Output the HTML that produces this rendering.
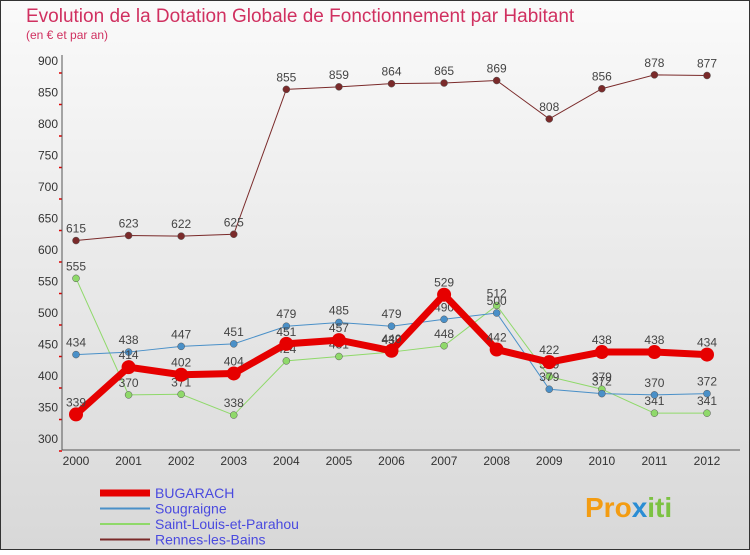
<!DOCTYPE html>
<html><head><meta charset="utf-8"><style>
body{margin:0;background:#fff}
#c{width:750px;height:550px;position:relative;font-family:"Liberation Sans",sans-serif}
</style></head><body>
<div id="c">
<svg id="s" width="750" height="550" xmlns="http://www.w3.org/2000/svg">
<defs><linearGradient id="bg" x1="0" y1="0" x2="0" y2="1"><stop offset="0" stop-color="#fafafa"/><stop offset="1" stop-color="#d8d8d8"/></linearGradient></defs>
<rect x="0.5" y="0.5" width="749" height="549" fill="url(#bg)" stroke="#333"/>
<text x="26" y="22" font-size="19" fill="#d03060" font-weight="300">Evolution de la Dotation Globale de Fonctionnement par Habitant</text>
<text x="26" y="39" font-size="12" fill="#d03060">(en € et par an)</text>
<g id="g"></g>
<text x="585" y="517" font-size="28" font-weight="bold" fill="#f39c12">Pro<tspan fill="#2a8dd4">x</tspan><tspan fill="#7cc242">iti</tspan></text>
</svg></div>
<script>
const years=["2000","2001","2002","2003","2004","2005","2006","2007","2008","2009","2010","2011","2012"];
const yTicks=[300,350,400,450,500,550,600,650,700,750,800,850,900];
const bugarach=[339,414,402,404,451,457,440,529,442,422,438,438,434];
const sougraigne=[434,438,447,451,479,485,479,490,500,379,372,370,372];
const saintLouis=[555,370,371,338,424,431,438,448,512,399,379,341,341];
const rennes=[615,623,622,625,855,859,864,865,869,808,856,878,877];
const NS="http://www.w3.org/2000/svg",g=document.getElementById('g');
const X=i=>76+i*(707-76)/12, Y=v=>439-(v-300)*(439-61)/600;
function mk(t,a,p){const e=document.createElementNS(NS,t);for(const k in a)e.setAttribute(k,a[k]);(p||g).appendChild(e);return e;}
yTicks.forEach(v=>{
 const tk=mk('line',{x1:59,x2:62,y1:Y(v)+12,y2:Y(v)+12,stroke:'#e00000','stroke-width':1.5});
 
 
 const t=mk('text',{x:58,y:Y(v)+4,'font-size':12,fill:'#333','text-anchor':'end'});t.textContent=v;
 
 
});
mk('line',{x1:62,x2:62,y1:55,y2:450,stroke:'#555'});
mk('line',{x1:62,x2:740,y1:450,y2:450,stroke:'#555'});
years.forEach((y,i)=>{
 const t=mk('text',{x:X(i),y:465,'font-size':12,fill:'#333','text-anchor':'middle'});t.textContent=y;
 
 
});
const series=[
 {d:rennes,c:'#7a2a2a',w:1,r:3.5,n:'rennes-les-bains'},
 {d:saintLouis,c:'#8fd96a',w:1,r:3.5,n:'saint-louis-et-parahou'},
 {d:sougraigne,c:'#4a90c8',w:1,r:3.5,n:'sougraigne'},
 {d:bugarach,c:'#e60000',w:7,r:7,n:'bugarach'}];
series.forEach(s=>{
 const p=mk('polyline',{points:s.d.map((v,i)=>X(i)+','+Y(v)).join(' '),fill:'none',stroke:s.c,'stroke-width':s.w});
 
 
 s.d.forEach((v,i)=>{
  const c=mk('circle',{cx:X(i),cy:Y(v),r:s.r,fill:s.c,stroke:'#555','stroke-width':s.w>1?0:0.5});
  
  
  const t=mk('text',{x:X(i),y:Y(v)-8,'font-size':12,fill:'#444','text-anchor':'middle'});t.textContent=v;
  
  
 });
});
const leg=[['BUGARACH','#e60000',7],['Sougraigne','#4a90c8',2],['Saint-Louis-et-Parahou','#8fd96a',2],['Rennes-les-Bains','#7a2a2a',2]];
leg.forEach((l,i)=>{
 const y=493+i*15.5;
 const ln=mk('line',{x1:100,x2:150,y1:y,y2:y,stroke:l[1],'stroke-width':l[2]});
 
 
 const t=mk('text',{x:155,y:y+5,'font-size':14,fill:'#4a4adf'});t.textContent=l[0];
 
 
});
</script>
</body></html>
